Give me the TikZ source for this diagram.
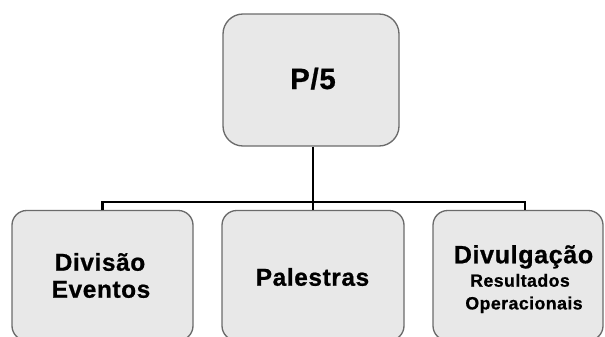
\documentclass[tikz,border=0pt]{standalone}
\usepackage{fontspec}
\setmainfont{Liberation Sans}
\begin{document}
\begin{tikzpicture}[x=0.75pt,y=-0.75pt,
  box/.style={draw=black!58, line width=1pt, fill=black!9, rounded corners=#1},
  box/.default=11pt,
  wire/.style={line width=2.1pt, black},
  txt/.style={anchor=base, inner sep=0pt, font=\bfseries\fontsize{#1}{#1}\selectfont\addfontfeature{LetterSpace=2.5,FakeBold=0.8}}]
\useasboundingbox (0,0) rectangle (605,336);
\begin{scope}
\clip (0,0) rectangle (605,336);
% boxes
\node[box=15pt, minimum width=132pt, minimum height=99pt] (top) at (311,80) {};
\node[box, minimum width=135.75pt, minimum height=97.5pt] (left) at (102.5,275.5) {};
\node[box, minimum width=136.5pt, minimum height=97.5pt] (mid) at (313,275.5) {};
\node[box, minimum width=127.5pt, minimum height=97.5pt] (right) at (518,275.5) {};
\end{scope}
% connectors
\coordinate (bus) at (313,202);
\draw[wire] (top.south -| bus) -- (bus);
\draw[wire] (left.north) -- (left.north |- bus) -- ([xshift=5.25pt]right.north |- bus) -- ([xshift=5.25pt]right.north);
\draw[wire] (bus) -- (mid.north);
% labels
\node[txt=22] (t0) at (313,89) {P/5};
\node[txt=18.3] (t1a) at (100,270.7) {Divisão};
\node[txt=18.3] (t1b) at (101,297.7) {Eventos};
\node[txt=18.3] (t2) at (312.5,285.7) {Palestras};
\node[txt=18.8] (t3a) at (523.5,263.3) {Divulgação};
\node[txt=13.3] (t3b) at (520,286.7) {Resultados};
\node[txt=13.3] (t3c) at (524,309.4) {Operacionais};
\end{tikzpicture}
\end{document}
